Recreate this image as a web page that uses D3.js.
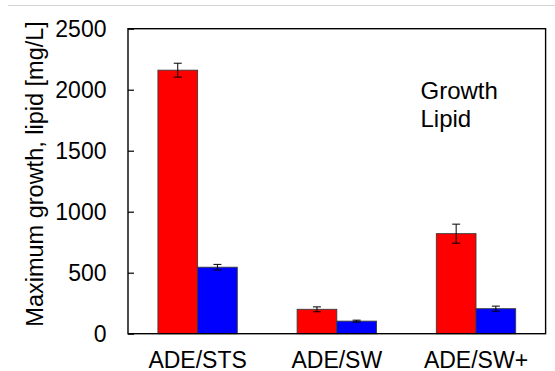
<!DOCTYPE html>
<html>
<head>
<meta charset="utf-8">
<script src="https://cdn.jsdelivr.net/npm/d3@7"></script>
<style>
  html, body { margin: 0; padding: 0; background: #fff; }
  svg { display: block; font-family: "Liberation Sans", Arial, sans-serif; }
</style>
</head>
<body>
<svg id="chart" width="555" height="371"></svg>
<script>
// Culture conditions and measured maxima (mg/L) with standard deviations
const categories = ["ADE/STS", "ADE/SW", "ADE/SW+"];
const seriesNames = ["Growth", "Lipid"];
const growth = [2160, 200, 820];
const growthErr = [57, 20, 78];
const lipid = [545, 103, 205];
const lipidErr = [23, 8, 21];
const yTicks = [0, 500, 1000, 1500, 2000, 2500];
const yTitle = "Maximum growth, lipid [mg/L]";

const colors = { Growth: "#ff0000", Lipid: "#0000ff" };

const svg = d3.select("#chart");
const plot = { left: 128, right: 545.6, top: 28.7, bottom: 333.7 };

const x = d3.scaleBand()
  .domain(categories)
  .range([plot.left, plot.right])
  .paddingInner(0.43)
  .paddingOuter(0.215);

const xSub = d3.scaleBand()
  .domain(seriesNames)
  .range([0, x.bandwidth()]);

const y = d3.scaleLinear()
  .domain([0, 2500])
  .range([plot.bottom, plot.top]);

// thin grey rule along the top of the page
svg.append("line")
  .attr("x1", 8).attr("x2", 555)
  .attr("y1", 5.5).attr("y2", 5.5)
  .attr("stroke", "#d4d4d4").attr("stroke-width", 1.2);

const rows = categories.map((c, i) => ({
  cat: c,
  vals: [
    { s: "Growth", v: growth[i], e: growthErr[i] },
    { s: "Lipid", v: lipid[i], e: lipidErr[i] }
  ]
}));

const groups = svg.append("g").selectAll("g")
  .data(rows).join("g")
  .attr("transform", d => `translate(${x(d.cat)},0)`);

groups.selectAll("rect")
  .data(d => d.vals).join("rect")
  .attr("x", d => xSub(d.s))
  .attr("width", xSub.bandwidth())
  .attr("y", d => y(d.v))
  .attr("height", d => y(0) - y(d.v))
  .attr("fill", d => colors[d.s])
  .attr("stroke", "#3a3a3a")
  .attr("stroke-width", 0.9);

// error bars
const eb = groups.selectAll("g.err")
  .data(d => d.vals).join("g")
  .attr("class", "err")
  .attr("stroke", "#000")
  .attr("stroke-width", 1);
const cx = d => xSub(d.s) + xSub.bandwidth() / 2;
eb.append("line")
  .attr("x1", cx).attr("x2", cx)
  .attr("y1", d => y(d.v + d.e)).attr("y2", d => y(d.v - d.e));
eb.append("line")
  .attr("x1", d => cx(d) - 4).attr("x2", d => cx(d) + 4)
  .attr("y1", d => y(d.v + d.e)).attr("y2", d => y(d.v + d.e));
eb.append("line")
  .attr("x1", d => cx(d) - 4).attr("x2", d => cx(d) + 4)
  .attr("y1", d => y(d.v - d.e)).attr("y2", d => y(d.v - d.e));

// frame around plot area
svg.append("rect")
  .attr("x", plot.left).attr("y", plot.top)
  .attr("width", plot.right - plot.left)
  .attr("height", plot.bottom - plot.top)
  .attr("fill", "none")
  .attr("stroke", "#000")
  .attr("stroke-width", 1.4);

// y axis with inward ticks
const yAxis = d3.axisLeft(y)
  .tickValues(yTicks)
  .tickSizeInner(-6)
  .tickSizeOuter(0)
  .tickPadding(22)
  .tickFormat(d3.format("d"));
const yg = svg.append("g")
  .attr("transform", `translate(${plot.left},0)`)
  .call(yAxis);
yg.select(".domain").remove();
yg.selectAll(".tick line").attr("stroke", "#000").attr("stroke-width", 1.2);
yg.selectAll(".tick text")
  .attr("x", -21.5)
  .attr("fill", "#000")
  .style("font-size", "23px")
  .style("font-family", "'Liberation Sans', Arial, sans-serif");

// x axis labels
const xAxis = d3.axisBottom(x).tickSize(0).tickPadding(0);
const xg = svg.append("g")
  .attr("transform", `translate(0,${plot.bottom})`)
  .call(xAxis);
xg.select(".domain").remove();
xg.selectAll(".tick text")
  .attr("y", 34.5)
  .attr("dy", null)
  .attr("fill", "#000")
  .style("font-size", "23px")
  .style("font-family", "'Liberation Sans', Arial, sans-serif");

// y axis title
svg.append("text")
  .attr("transform", `translate(42.5,${(20.5 + 327.3) / 2}) rotate(-90)`)
  .attr("text-anchor", "middle")
  .style("font-size", "23.5px")
  .attr("fill", "#000")
  .text(yTitle);

// legend text
svg.append("g").selectAll("text")
  .data(seriesNames).join("text")
  .attr("x", 420.5)
  .attr("y", (d, i) => 98.5 + i * 28.7)
  .style("font-size", "24px")
  .attr("fill", "#000")
  .text(d => d);
</script>
</body>
</html>
